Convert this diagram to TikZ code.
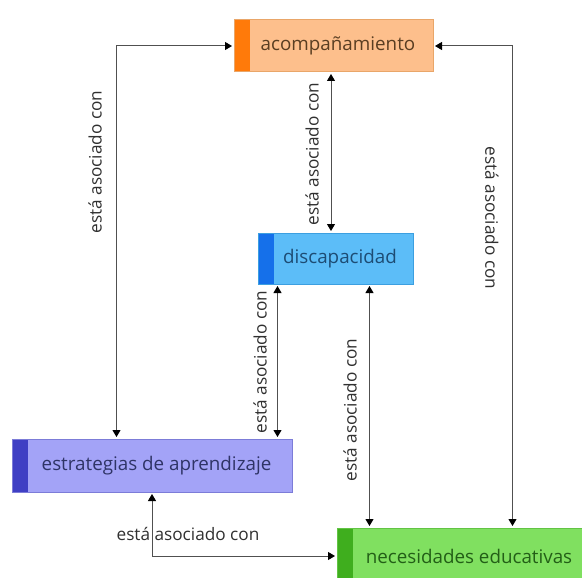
\documentclass[tikz,border=0pt]{standalone}
\usepackage{fontspec}
\setmainfont{Open Sans}
\usetikzlibrary{arrows.meta}
\definecolor{acfill}{HTML}{FDBF8C}
\definecolor{acdraw}{HTML}{E9A669}
\definecolor{acacc}{HTML}{FF7A0A}
\definecolor{actext}{HTML}{5A3E22}
\definecolor{dsfill}{HTML}{5CBDF8}
\definecolor{dsdraw}{HTML}{3C9FE0}
\definecolor{dsacc}{HTML}{1570EA}
\definecolor{dstext}{HTML}{1D4C74}
\definecolor{esfill}{HTML}{A3A3F7}
\definecolor{esdraw}{HTML}{7C7CD8}
\definecolor{esacc}{HTML}{3F3FC4}
\definecolor{estext}{HTML}{2F3466}
\definecolor{nefill}{HTML}{80E060}
\definecolor{nedraw}{HTML}{62C444}
\definecolor{neacc}{HTML}{3FAE1E}
\definecolor{netext}{HTML}{235F17}
\definecolor{linecol}{HTML}{505050}
\definecolor{labcol}{HTML}{303030}
\tikzset{
  cbox/.style n args={4}{rectangle, draw=#1, fill=#2, text=#4, line width=1pt,
    inner sep=0pt, font=\fontsize{18.8}{22}\selectfont,
    path picture={\fill[#3] (path picture bounding box.south west) rectangle ([xshift=16pt]path picture bounding box.north west);}},
  conn/.style={draw=linecol, line width=1pt, {Triangle[length=7pt,width=8pt,black]}-{Triangle[length=7pt,width=8pt,black]}, shorten <=1.5pt, shorten >=1.5pt},
  lab/.style={text=labcol, font=\fontsize{17.2}{20}\selectfont, inner sep=0pt}
}
\begin{document}
\begin{tikzpicture}[x=1pt,y=1pt]
\useasboundingbox (0,0) rectangle (582,-578);
\clip (0,0) rectangle (582,-578);
\node[cbox={acdraw}{acfill}{acacc}{actext}, minimum width=199pt, minimum height=52pt] (acomp) at (333.5,-46) {\hspace*{9pt}acompañamiento};
\node[cbox={dsdraw}{dsfill}{dsacc}{dstext}, minimum width=155pt, minimum height=51pt] (disc) at (335.5,-258.5) {\hspace*{9pt}discapacidad};
\node[cbox={esdraw}{esfill}{esacc}{estext}, minimum width=280pt, minimum height=53pt] (estr) at (152,-465.5) {\hspace*{9pt}estrategias de aprendizaje};
\node[cbox={nedraw}{nefill}{neacc}{netext}, minimum width=255pt, minimum height=56pt] (nec) at (464.5,-556) {\hspace*{9pt}necesidades educativas};

\draw[conn] (acomp.west) -| ([xshift=105pt]estr.north west);
\draw[conn] (acomp.east) -| ([xshift=176pt]nec.north west);
\draw[conn] ([xshift=-2.5pt]acomp.south) -- ([xshift=-2.5pt]acomp.south |- disc.north);
\draw[conn] ([xshift=20pt]disc.south west) -- ([xshift=20pt]disc.south west |- estr.north);
\draw[conn] ([xshift=112pt]disc.south west) -- ([xshift=112pt]disc.south west |- nec.north);
\draw[conn] (estr.south) |- (nec.west);

\node[lab, rotate=90] (l1) at (95,-162) {está asociado con};
\node[lab, rotate=-90] (l2) at (492,-218) {está asociado con};
\node[lab, rotate=90] (l3) at (312,-154) {está asociado con};
\node[lab, rotate=90] (l4) at (260,-362) {está asociado con};
\node[lab, rotate=90] (l5) at (350,-410) {está asociado con};
\node[lab] (l6) at (188,-534) {está asociado con};
\end{tikzpicture}
\end{document}
